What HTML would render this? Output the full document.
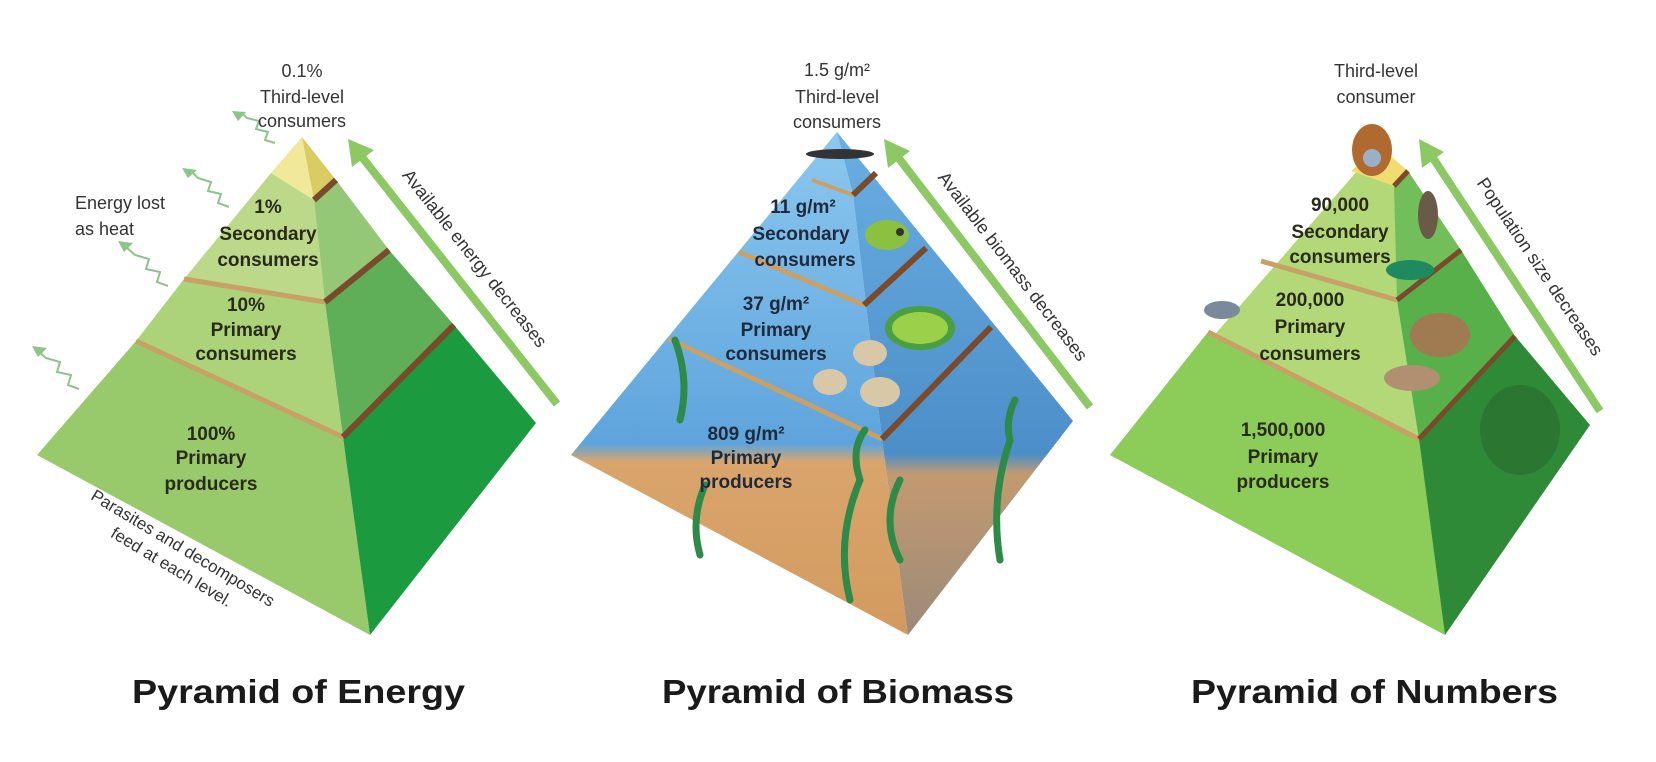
<!DOCTYPE html>
<html><head><meta charset="utf-8"><style>
html,body{margin:0;padding:0;background:#fff;}
svg{display:block;}
text{font-family:"Liberation Sans",sans-serif;}
.lb{font-size:18px;fill:#333;text-anchor:middle;}
.in{font-size:19px;fill:#2a2a1a;text-anchor:middle;font-weight:bold;}
.ti{font-size:33px;font-weight:bold;fill:#1a1a1a;}
</style></head><body>
<svg width="1656" height="762" viewBox="0 0 1656 762" xmlns="http://www.w3.org/2000/svg">
<defs>
<linearGradient id="bl" gradientUnits="userSpaceOnUse" x1="0" y1="132" x2="0" y2="635">
<stop offset="0" stop-color="#8cc8f0"/><stop offset="0.62" stop-color="#5ea4dc"/><stop offset="0.655" stop-color="#d9a56c"/><stop offset="1" stop-color="#d39a5e"/></linearGradient>
<linearGradient id="br" gradientUnits="userSpaceOnUse" x1="0" y1="132" x2="0" y2="635">
<stop offset="0" stop-color="#6aaee2"/><stop offset="0.64" stop-color="#4c8ec8"/><stop offset="0.68" stop-color="#c39a70"/><stop offset="1" stop-color="#9a8a7a"/></linearGradient>
</defs>

<!-- ENERGY -->
<polygon points="302,137 271,173 314,200" fill="#f2e89a"/>
<polygon points="302,137 314,200 336,180" fill="#d9cc62"/>
<polygon points="271,173 314,200 325,302 184,279" fill="#bcd98a"/>
<polygon points="314,200 336,180 389,250 325,302" fill="#94c877"/>
<polygon points="184,279 325,302 343,437 136,341" fill="#acd37a"/>
<polygon points="325,302 389,250 454,325 343,437" fill="#5fae58"/>
<polygon points="136,341 343,437 370,635 37,455" fill="#98c96a"/>
<polygon points="343,437 454,325 536,423 370,635" fill="#1b9a40"/>
<line x1="184" y1="279" x2="325" y2="302" stroke="#c9a066" stroke-width="5"/>
<line x1="136" y1="341" x2="343" y2="437" stroke="#c9a066" stroke-width="5"/>
<line x1="314" y1="200" x2="336" y2="180" stroke="#7a4a2a" stroke-width="6"/>
<line x1="325" y1="302" x2="389" y2="250" stroke="#7a4a2a" stroke-width="6"/>
<line x1="343" y1="437" x2="454" y2="325" stroke="#7a4a2a" stroke-width="6"/>
<g fill="none" stroke="#8cc48a" stroke-width="2">
<polyline points="275,143 265,140 268,132 256,129 259,121 247,118 242,113"/>
<polyline points="229,207 218,203 221,194 208,191 211,182 198,178 192,172"/>
<polyline points="168,286 157,282 160,272 146,269 149,259 135,255 126,247"/>
<polyline points="79,389 68,385 71,375 57,372 60,362 46,358 38,351"/>
</g>
<g fill="#8cc48a"><polygon points="232,111 246,112 238,121"/><polygon points="182,168 197,170 188,178"/><polygon points="118,241 133,243 124,252"/><polygon points="32,346 47,348 38,357"/></g>
<text class="lb"><tspan x="302" y="77">0.1%</tspan><tspan x="302" y="103">Third-level</tspan><tspan x="302" y="127">consumers</tspan></text>
<text class="lb" x="75" y="209" style="text-anchor:start">Energy lost</text>
<text class="lb" x="75" y="235" style="text-anchor:start">as heat</text>
<text class="in"><tspan x="268" y="213">1%</tspan><tspan x="268" y="240">Secondary</tspan><tspan x="268" y="266">consumers</tspan></text>
<text class="in"><tspan x="246" y="311">10%</tspan><tspan x="246" y="336">Primary</tspan><tspan x="246" y="360">consumers</tspan></text>
<text class="in"><tspan x="211" y="440">100%</tspan><tspan x="211" y="464">Primary</tspan><tspan x="211" y="490">producers</tspan></text>
<text class="lb" style="font-size:17px" transform="translate(180,553) rotate(31)"><tspan x="0" y="0">Parasites and decomposers</tspan><tspan x="0" y="22">feed at each level.</tspan></text>
<line x1="557" y1="404" x2="358" y2="152" stroke="#8cc863" stroke-width="8"/>
<polygon points="348,139 374,150 352,167" fill="#8cc863"/>
<text class="lb" style="font-size:18px" transform="translate(470,262) rotate(51.7)" x="0" y="0">Available energy decreases</text>

<!-- BIOMASS -->
<polygon points="837,132 571,455 908,635 882,439 853,195" fill="url(#bl)"/>
<polygon points="837,132 853,195 882,439 908,635 1073,421" fill="url(#br)"/>
<line x1="812" y1="180" x2="853" y2="195" stroke="#c9a066" stroke-width="4"/>
<line x1="739" y1="252" x2="864" y2="305" stroke="#c9a066" stroke-width="5"/>
<line x1="669" y1="339" x2="882" y2="439" stroke="#c9a066" stroke-width="5"/>
<line x1="853" y1="195" x2="876" y2="173" stroke="#7a4a2a" stroke-width="6"/>
<line x1="864" y1="305" x2="926" y2="248" stroke="#7a4a2a" stroke-width="6"/>
<line x1="882" y1="439" x2="991" y2="327" stroke="#7a4a2a" stroke-width="6"/>
<ellipse cx="840" cy="154" rx="34" ry="5" fill="#333"/>
<ellipse cx="887" cy="235" rx="22" ry="15" fill="#8cc040"/><circle cx="900" cy="232" r="4" fill="#333"/>
<ellipse cx="920" cy="328" rx="35" ry="22" fill="#4aa040"/><ellipse cx="920" cy="328" rx="28" ry="16" fill="#9bd04a"/>
<ellipse cx="870" cy="353" rx="17" ry="13" fill="#d8c8a8"/><ellipse cx="830" cy="382" rx="17" ry="13" fill="#d8c8a8"/><ellipse cx="880" cy="392" rx="20" ry="15" fill="#d8c8a8"/>
<g stroke="#2e8a48" stroke-width="7" fill="none" stroke-linecap="round">
<path d="M850 600 Q835 540 860 480 Q850 450 865 430"/>
<path d="M900 560 Q880 520 900 480"/>
<path d="M1000 560 Q990 500 1010 440 Q1005 420 1015 400"/>
<path d="M700 555 Q690 520 705 485"/>
<path d="M680 420 Q690 380 675 340"/>
</g>
<text class="lb"><tspan x="837" y="76">1.5 g/m²</tspan><tspan x="837" y="103">Third-level</tspan><tspan x="837" y="128">consumers</tspan></text>
<text class="in" style="fill:#1f2a3a"><tspan x="803" y="213">11 g/m²</tspan><tspan x="801" y="240">Secondary</tspan><tspan x="805" y="266">consumers</tspan></text>
<text class="in" style="fill:#1f2a3a"><tspan x="776" y="310">37 g/m²</tspan><tspan x="776" y="336">Primary</tspan><tspan x="776" y="360">consumers</tspan></text>
<text class="in" style="fill:#1f2a3a"><tspan x="746" y="440">809 g/m²</tspan><tspan x="746" y="464">Primary</tspan><tspan x="746" y="488">producers</tspan></text>
<line x1="1090" y1="407" x2="894" y2="152" stroke="#8cc863" stroke-width="8"/>
<polygon points="884,139 910,151 888,168" fill="#8cc863"/>
<text class="lb" style="font-size:18px" transform="translate(1008,270) rotate(52.5)">Available biomass decreases</text>

<!-- NUMBERS -->
<polygon points="1379,146 1110,455 1445,635 1419,439 1394,186" fill="#b2d878"/>
<polygon points="1208,332 1419,439 1445,635 1110,455" fill="#8ccc58"/>
<polygon points="1394,186 1408,171 1461,250 1397,300" fill="#72be5a"/>
<polygon points="1397,300 1461,250 1515,336 1419,439" fill="#58b04a"/>
<polygon points="1419,439 1515,336 1590,425 1445,635" fill="#2f8a38"/>
<polygon points="1379,146 1351,171 1394,186 1408,171" fill="#f0dc70"/>
<line x1="1261" y1="261" x2="1397" y2="300" stroke="#c9a066" stroke-width="5"/>
<line x1="1208" y1="332" x2="1419" y2="439" stroke="#c9a066" stroke-width="5"/>
<line x1="1394" y1="186" x2="1408" y2="171" stroke="#7a4a2a" stroke-width="5"/>
<line x1="1397" y1="300" x2="1461" y2="250" stroke="#7a4a2a" stroke-width="5"/>
<line x1="1419" y1="439" x2="1515" y2="336" stroke="#7a4a2a" stroke-width="5"/>
<ellipse cx="1372" cy="150" rx="20" ry="26" fill="#b06a30"/><ellipse cx="1372" cy="158" rx="9" ry="9" fill="#9ab0c8"/>
<ellipse cx="1428" cy="215" rx="10" ry="24" fill="#6a5a48"/>
<ellipse cx="1410" cy="270" rx="24" ry="10" fill="#1f8a60"/>
<ellipse cx="1222" cy="310" rx="18" ry="9" fill="#7a8a9a"/>
<ellipse cx="1440" cy="335" rx="30" ry="22" fill="#a07a50"/>
<ellipse cx="1412" cy="378" rx="28" ry="13" fill="#b09070"/>
<ellipse cx="1520" cy="430" rx="40" ry="45" fill="#2a7030" opacity="0.8"/>
<text class="lb"><tspan x="1376" y="77">Third-level</tspan><tspan x="1376" y="103">consumer</tspan></text>
<text class="in"><tspan x="1340" y="211">90,000</tspan><tspan x="1340" y="238">Secondary</tspan><tspan x="1340" y="263">consumers</tspan></text>
<text class="in"><tspan x="1310" y="306">200,000</tspan><tspan x="1310" y="333">Primary</tspan><tspan x="1310" y="360">consumers</tspan></text>
<text class="in"><tspan x="1283" y="436">1,500,000</tspan><tspan x="1283" y="463">Primary</tspan><tspan x="1283" y="488">producers</tspan></text>
<line x1="1600" y1="411" x2="1429" y2="152" stroke="#8cc863" stroke-width="8"/>
<polygon points="1419,139 1444,152 1422,168" fill="#8cc863"/>
<text class="lb" style="font-size:18px" transform="translate(1535,270) rotate(56)">Population size decreases</text>

<text class="ti" x="132" y="703" textLength="333" lengthAdjust="spacingAndGlyphs">Pyramid of Energy</text>
<text class="ti" x="662" y="703" textLength="352" lengthAdjust="spacingAndGlyphs">Pyramid of Biomass</text>
<text class="ti" x="1191" y="703" textLength="367" lengthAdjust="spacingAndGlyphs">Pyramid of Numbers</text>
</svg>
</body></html>
